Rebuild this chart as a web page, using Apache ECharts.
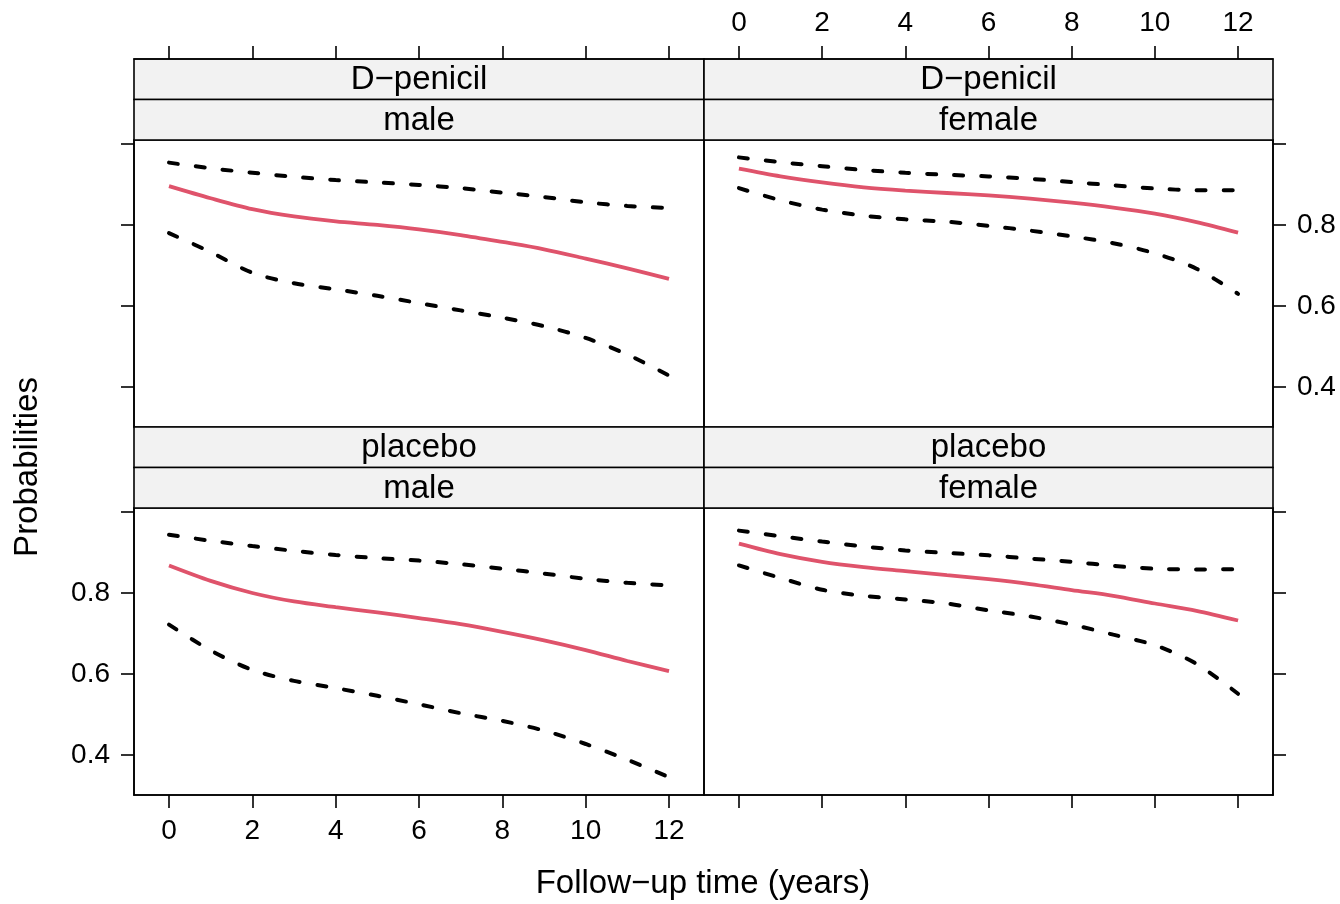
<!DOCTYPE html>
<html><head><meta charset="utf-8">
<script src="https://cdn.jsdelivr.net/npm/echarts@6/dist/echarts.min.js"></script>
<style>html,body{margin:0;padding:0;background:#fff}#c{width:1340px;height:904px}</style>
</head><body><div id="c"></div>
<script>
// ---- data ----
const years = [0,1,2,3,4,5,6,7,8,9,10,11,12];
const xTickValues = [0,2,4,6,8,10,12];
const yTickValues = [0.4,0.6,0.8,1.0];
const yLabelValues = [0.4,0.6,0.8];
const stripTreatment = ['D−penicil','D−penicil','placebo','placebo'];
const stripSex = ['male','female','male','female'];
const xTitle = 'Follow−up time (years)';
const yTitle = 'Probabilities';

// D-penicil, male
const dpMaleFit   = [0.896,0.866,0.839,0.821,0.809,0.800,0.789,0.775,0.758,0.740,0.717,0.693,0.667];
const dpMaleLow   = [0.780,0.733,0.682,0.656,0.641,0.625,0.607,0.589,0.571,0.550,0.521,0.480,0.428];
const dpMaleHigh  = [0.954,0.940,0.929,0.919,0.911,0.905,0.899,0.891,0.880,0.869,0.856,0.847,0.842];
// D-penicil, female
const dpFemaleFit  = [0.939,0.920,0.905,0.893,0.885,0.879,0.873,0.865,0.855,0.843,0.828,0.807,0.781];
const dpFemaleLow  = [0.891,0.861,0.838,0.823,0.814,0.808,0.798,0.786,0.772,0.755,0.730,0.692,0.630];
const dpFemaleHigh = [0.967,0.955,0.945,0.936,0.929,0.924,0.920,0.914,0.906,0.898,0.890,0.886,0.886];
// placebo, male
const plMaleFit   = [0.868,0.830,0.800,0.779,0.765,0.752,0.738,0.723,0.704,0.683,0.659,0.632,0.607];
const plMaleLow   = [0.722,0.658,0.610,0.583,0.565,0.546,0.525,0.503,0.484,0.460,0.427,0.388,0.345];
const plMaleHigh  = [0.944,0.929,0.916,0.904,0.894,0.886,0.880,0.871,0.860,0.848,0.835,0.825,0.819];
// placebo, female
const plFemaleFit  = [0.922,0.896,0.877,0.864,0.854,0.844,0.834,0.822,0.807,0.793,0.774,0.756,0.732];
const plFemaleLow  = [0.868,0.837,0.808,0.793,0.784,0.774,0.757,0.742,0.722,0.697,0.671,0.625,0.551];
const plFemaleHigh = [0.954,0.940,0.927,0.915,0.905,0.899,0.893,0.885,0.877,0.867,0.860,0.858,0.859];

const panelSeries = [
  [dpMaleFit, dpMaleLow, dpMaleHigh],
  [dpFemaleFit, dpFemaleLow, dpFemaleHigh],
  [plMaleFit, plMaleLow, plMaleHigh],
  [plFemaleFit, plFemaleLow, plFemaleHigh]
];

// ---- layout ----
const FONT = '"Liberation Sans", Arial, Helvetica, sans-serif';
const colsLeft = [134, 704];
const colsWidth = [570, 569];
const rowsTop = [140, 508];
const plotH = 287;
const stripH = 40.5;
const xMin = -0.84, xMax = 12.84;
const yMin = 0.301, yMax = 1.0099;
const RED = '#DF536B';

const grids = [], xAxes = [], yAxes = [], series = [], graphics = [];
for (let p = 0; p < 4; p++) {
  const col = p % 2, row = Math.floor(p / 2);
  grids.push({left: colsLeft[col], top: rowsTop[row], width: colsWidth[col], height: plotH,
    show: true, borderColor: '#000', borderWidth: 1.6, backgroundColor: 'transparent', containLabel: false});
  const xLabeled = (row === 0 && col === 1) || (row === 1 && col === 0);
  xAxes.push({type: 'value', gridIndex: p, position: row === 0 ? 'top' : 'bottom',
    offset: row === 0 ? 2 * stripH : 0,
    min: xMin, max: xMax, splitLine: {show: false}, z: 10,
    axisLine: {show: true, onZero: false, lineStyle: {color: '#000', width: 1.6}},
    axisTick: {show: true, length: 13, inside: false, customValues: xTickValues, lineStyle: {color: '#000', width: 1.6}},
    axisLabel: {show: xLabeled, customValues: xTickValues, margin: 22, color: '#000', fontSize: 28, fontFamily: FONT,
      formatter: v => String(v)}
  });
  const yLabeled = (row === 0 && col === 1) || (row === 1 && col === 0);
  yAxes.push({type: 'value', gridIndex: p, position: col === 0 ? 'left' : 'right',
    min: yMin, max: yMax, splitLine: {show: false},
    axisLine: {show: true, onZero: false, lineStyle: {color: '#000', width: 1.6}},
    axisTick: {show: true, length: 13, inside: false, customValues: yTickValues, lineStyle: {color: '#000', width: 1.6}},
    axisLabel: {show: yLabeled, customValues: yLabelValues, margin: 24, color: '#000', fontSize: 28, fontFamily: FONT,
      formatter: v => v.toFixed(1)}
  });
  const [fit, lo, hi] = panelSeries[p];
  const mk = (arr, dashed) => ({
    type: 'line', xAxisIndex: p, yAxisIndex: p, data: years.map((t, i) => [t, arr[i]]),
    showSymbol: false, symbol: 'none', smooth: 0.3, silent: true, animation: false,
    lineStyle: dashed ? {color: '#000', width: 4, type: [9, 18], cap: 'round'} : {color: RED, width: 3.8},
    z: dashed ? 3 : 4
  });
  series.push(mk(hi, true), mk(lo, true), mk(fit, false));

  // strips
  const sTop = rowsTop[row] - 2 * stripH;
  const labels = [stripTreatment[p], stripSex[p]];
  for (let s = 0; s < 2; s++) {
    graphics.push({type: 'rect', silent: true, z: 1,
      shape: {x: colsLeft[col], y: sTop + s * stripH, width: colsWidth[col], height: stripH},
      style: {fill: '#F2F2F2', stroke: '#000', lineWidth: 1.6}});
    graphics.push({type: 'text', silent: true, z: 2,
      x: colsLeft[col] + colsWidth[col] / 2, y: sTop + s * stripH + stripH / 2 + 1,
      style: {text: labels[s], fill: '#000', font: '33px ' + FONT, textAlign: 'center', textVerticalAlign: 'middle'}});
  }
}
graphics.push({type: 'text', silent: true, x: 703, y: 884,
  style: {text: xTitle, fill: '#000', font: '33px ' + FONT, textAlign: 'center', textVerticalAlign: 'middle'}});
graphics.push({type: 'text', silent: true, x: 28, y: 467, rotation: Math.PI / 2,
  style: {text: yTitle, fill: '#000', font: '33px ' + FONT, textAlign: 'center', textVerticalAlign: 'middle'}});

const chart = echarts.init(document.getElementById('c'), null, {renderer: 'canvas'});
chart.setOption({
  backgroundColor: '#fff', animation: false,
  grid: grids, xAxis: xAxes, yAxis: yAxes, series: series, graphic: graphics
});
</script></body></html>
